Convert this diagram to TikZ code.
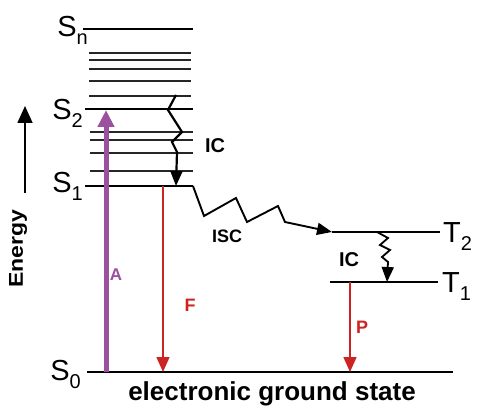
\documentclass[tikz,border=0pt]{standalone}
\usepackage{fontspec}
\setmainfont{Liberation Sans}
\usetikzlibrary{arrows.meta,positioning}
\definecolor{absorbcol}{RGB}{155,80,160}
\definecolor{emitcol}{RGB}{205,35,35}

\newcommand{\lvlname}[2]{{\fontsize{29}{30}\selectfont #1}\raisebox{-8pt}{\fontsize{20}{20}\selectfont #2}}

\begin{document}
\begin{tikzpicture}[x=1pt,y=-1pt,
  level/.style={line width=2.4pt},
  sublevel/.style={line width=1.1pt,black!85},
  lvllabel/.style={anchor=base east,inner sep=0pt},
  tlabel/.style={anchor=base west,inner sep=0pt},
  proc/.style={font=\fontsize{18}{20}\selectfont\bfseries,inner sep=0pt},
  wavy/.style={line width=2.2pt,line join=miter,-{Triangle[width=12pt,length=15pt]}},
  absorb/.style={absorbcol,line width=5pt,-{Triangle[width=16pt,length=17pt]}},
  emit/.style={emitcol,line width=1.6pt,-{Triangle[width=13pt,length=15pt]}},
  >=Stealth
]
\useasboundingbox (0,0) rectangle (479,406);

% Levels
\coordinate (Snl) at (83,29);  \coordinate (Snr) at (193,29);
\coordinate (S2l) at (85,109); \coordinate (S2r) at (193,109);
\coordinate (S1l) at (85,186); \coordinate (S1r) at (193,186);
\coordinate (S0l) at (87,372); \coordinate (S0r) at (453,372);
\coordinate (T2l) at (332,232); \coordinate (T2r) at (440,232);
\coordinate (T1l) at (330,282); \coordinate (T1r) at (438,282);

\draw[level] (Snl) -- (Snr);
\draw[level] (S2l) -- (S2r);
\draw[level] (S1l) -- (S1r);
\draw[level] (S0l) -- (S0r);
\draw[level] (T2l) -- (T2r);
\draw[level] (T1l) -- (T1r);

% Vibrational sublevels
\foreach \y in {53,60,69,81,96}
  \draw[sublevel] (89,\y) -- (191,\y);
\foreach \y in {132,140,153,171}
  \draw[sublevel] (90,\y) -- (193,\y);

% Level names
\node[lvllabel] (Sn) at (88,37)  {\lvlname{S}{n}};
\node[lvllabel] (S2) at (83,120) {\lvlname{S}{2}};
\node[lvllabel] (S1) at (83,193) {\lvlname{S}{1}};
\node[lvllabel] (S0) at (81,380) {\lvlname{S}{0}};
\node[tlabel] (T2) at (443,242) {\lvlname{T}{2}};
\node[tlabel] (T1) at (442,292) {\lvlname{T}{1}};

% Energy axis
\coordinate (Ebot) at (25,193);
\coordinate (Etop) at (25,106);
\draw[line width=1.8pt,-{Triangle[width=15pt,length=17pt]}] (Ebot) -- (Etop);
\node[font=\fontsize{20}{22}\selectfont\bfseries,rotate=90,xscale=1.15,inner sep=0pt] (energy) at (18,249) {Energy};

% Absorption and emission
\coordinate (aS0) at (106,372); \coordinate (aS2) at (106,110);
\coordinate (fS1) at (163,186); \coordinate (fS0) at (163,372);
\coordinate (pT1) at (350,282); \coordinate (pS0) at (350,372);
\draw[absorb] (aS0) -- (aS2);
\draw[emit] (fS1) -- (fS0);
\draw[emit] (pT1) -- (pS0);
\node[proc,font=\fontsize{17}{20}\selectfont\bfseries,absorbcol] (A) at (116,275) {A};
\node[proc,emitcol] (F) at (190,305) {F};
\node[proc,emitcol] (P) at (362,327) {P};

% Internal conversion and intersystem crossing
\coordinate (icStop) at (176,95); \coordinate (icSbot) at (176,186);
\draw[wavy] (icStop) -- (168,110) -- (182,132) -- (172,142) -- (177,152) -- (icSbot);
\node[proc,font=\fontsize{20}{22}\selectfont\bfseries] (IC1) at (215,146) {IC};

\draw[wavy,line width=1.9pt] (S1r) -- (204,216) -- (236,198) -- (247,222) -- (278,206) -- (285,222) -- (T2l);
\node[proc] (ISC) at (227,236) {ISC};

\coordinate (icTtop) at (377,232); \coordinate (icTbot) at (387,282);
\draw[wavy,line width=1.8pt] (icTtop) -- (388,238) -- (380,245) -- (390,250) -- (382,257) -- (388,262) -- (icTbot);
\node[proc,font=\fontsize{20}{22}\selectfont\bfseries] (IC2) at (349,260) {IC};

% Ground state
\node[font=\fontsize{26}{28}\selectfont\bfseries,anchor=base] (ground) at (272,400) {electronic ground state};
\end{tikzpicture}
\end{document}
